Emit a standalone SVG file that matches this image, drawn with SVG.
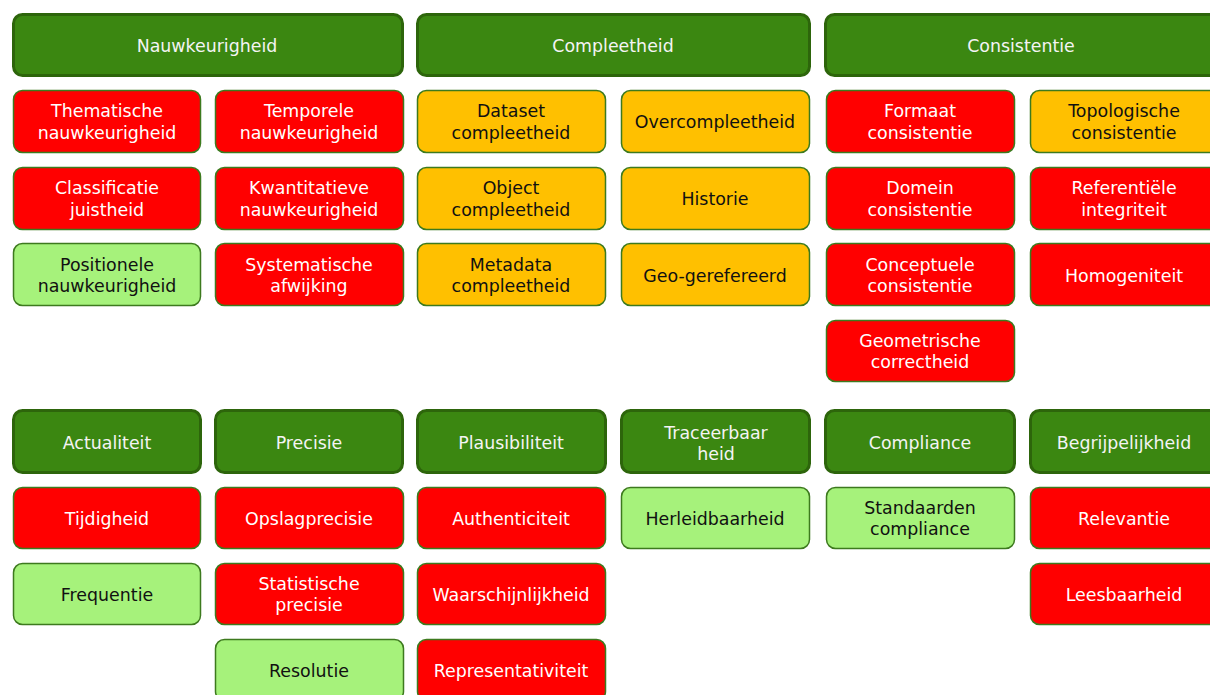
<svg xmlns="http://www.w3.org/2000/svg" width="1210" height="695" viewBox="0 0 1210 695">
  <style>
    text { font-family: "DejaVu Sans", Verdana, sans-serif; font-size: 17.4px; text-anchor: middle; }
    .hdr rect { fill: #3b8711; stroke: #2d650b; stroke-width: 3; }
    .hdr text { fill: #f4f4f4; }
    .box rect { stroke: #3d7a1e; stroke-width: 1.5; }
    .red rect { fill: #ff0000; }
    .red text { fill: #ffffff; }
    .org rect { fill: #ffc000; }
    .org text { fill: #111111; }
    .lgr rect { fill: #a6f27b; }
    .lgr text { fill: #111111; }
  </style>

  <!-- category headers, top band -->
  <g id="nauwkeurigheid" class="hdr"><rect x="13.5" y="14.5" width="389" height="61" rx="9"/><text x="207" y="52">Nauwkeurigheid</text></g>
  <g id="compleetheid" class="hdr"><rect x="417.5" y="14.5" width="392" height="61" rx="9"/><text x="613" y="52">Compleetheid</text></g>
  <g id="consistentie" class="hdr"><rect x="825.5" y="14.5" width="394" height="61" rx="9"/><text x="1021" y="52">Consistentie</text></g>

  <!-- Nauwkeurigheid -->
  <g id="thematische" class="box red"><rect x="13.5" y="90.5" width="187" height="62" rx="9"/><text x="107" y="117">Thematische</text><text x="107" y="139">nauwkeurigheid</text></g>
  <g id="temporele" class="box red"><rect x="215.5" y="90.5" width="188" height="62" rx="9"/><text x="309" y="117">Temporele</text><text x="309" y="139">nauwkeurigheid</text></g>
  <g id="classificatie" class="box red"><rect x="13.5" y="167.5" width="187" height="62" rx="9"/><text x="107" y="194">Classificatie</text><text x="107" y="216">juistheid</text></g>
  <g id="kwantitatieve" class="box red"><rect x="215.5" y="167.5" width="188" height="62" rx="9"/><text x="309" y="194">Kwantitatieve</text><text x="309" y="216">nauwkeurigheid</text></g>
  <g id="positionele" class="box lgr"><rect x="13.5" y="243.5" width="187" height="62" rx="9"/><text x="107" y="271">Positionele</text><text x="107" y="292">nauwkeurigheid</text></g>
  <g id="systematische" class="box red"><rect x="215.5" y="243.5" width="188" height="62" rx="9"/><text x="309" y="271">Systematische</text><text x="309" y="292">afwijking</text></g>

  <!-- Compleetheid -->
  <g id="dataset" class="box org"><rect x="417.5" y="90.5" width="188" height="62" rx="9"/><text x="511" y="117">Dataset</text><text x="511" y="139">compleetheid</text></g>
  <g id="overcompleetheid" class="box org"><rect x="621.5" y="90.5" width="188" height="62" rx="9"/><text x="715" y="128">Overcompleetheid</text></g>
  <g id="object" class="box org"><rect x="417.5" y="167.5" width="188" height="62" rx="9"/><text x="511" y="194">Object</text><text x="511" y="216">compleetheid</text></g>
  <g id="historie" class="box org"><rect x="621.5" y="167.5" width="188" height="62" rx="9"/><text x="715" y="205">Historie</text></g>
  <g id="metadata" class="box org"><rect x="417.5" y="243.5" width="188" height="62" rx="9"/><text x="511" y="271">Metadata</text><text x="511" y="292">compleetheid</text></g>
  <g id="geogerefereerd" class="box org"><rect x="621.5" y="243.5" width="188" height="62" rx="9"/><text x="715" y="282">Geo-gerefereerd</text></g>

  <!-- Consistentie -->
  <g id="formaat" class="box red"><rect x="826.5" y="90.5" width="188" height="62" rx="9"/><text x="920" y="117">Formaat</text><text x="920" y="139">consistentie</text></g>
  <g id="topologische" class="box org"><rect x="1030.5" y="90.5" width="188" height="62" rx="9"/><text x="1124" y="117">Topologische</text><text x="1124" y="139">consistentie</text></g>
  <g id="domein" class="box red"><rect x="826.5" y="167.5" width="188" height="62" rx="9"/><text x="920" y="194">Domein</text><text x="920" y="216">consistentie</text></g>
  <g id="referentiele" class="box red"><rect x="1030.5" y="167.5" width="188" height="62" rx="9"/><text x="1124" y="194">Referentiële</text><text x="1124" y="216">integriteit</text></g>
  <g id="conceptuele" class="box red"><rect x="826.5" y="243.5" width="188" height="62" rx="9"/><text x="920" y="271">Conceptuele</text><text x="920" y="292">consistentie</text></g>
  <g id="homogeniteit" class="box red"><rect x="1030.5" y="243.5" width="188" height="62" rx="9"/><text x="1124" y="282">Homogeniteit</text></g>
  <g id="geometrische" class="box red"><rect x="826.5" y="320.5" width="188" height="61" rx="9"/><text x="920" y="347">Geometrische</text><text x="920" y="368">correctheid</text></g>

  <!-- category headers, bottom band -->
  <g id="actualiteit" class="hdr"><rect x="13.5" y="410.5" width="187" height="62" rx="9"/><text x="107" y="449">Actualiteit</text></g>
  <g id="precisie" class="hdr"><rect x="215.5" y="410.5" width="187" height="62" rx="9"/><text x="309" y="449">Precisie</text></g>
  <g id="plausibiliteit" class="hdr"><rect x="417.5" y="410.5" width="188" height="62" rx="9"/><text x="511" y="449">Plausibiliteit</text></g>
  <g id="traceerbaarheid" class="hdr"><rect x="621.5" y="410.5" width="188" height="62" rx="9"/><text x="716" y="439">Traceerbaar</text><text x="716" y="460">heid</text></g>
  <g id="compliance" class="hdr"><rect x="825.5" y="410.5" width="189" height="62" rx="9"/><text x="920" y="449">Compliance</text></g>
  <g id="begrijpelijkheid" class="hdr"><rect x="1030.5" y="410.5" width="189" height="62" rx="9"/><text x="1124" y="449">Begrijpelijkheid</text></g>

  <!-- Actualiteit -->
  <g id="tijdigheid" class="box red"><rect x="13.5" y="487.5" width="187" height="61" rx="9"/><text x="107" y="525">Tijdigheid</text></g>
  <g id="frequentie" class="box lgr"><rect x="13.5" y="563.5" width="187" height="61" rx="9"/><text x="107" y="601">Frequentie</text></g>

  <!-- Precisie -->
  <g id="opslagprecisie" class="box red"><rect x="215.5" y="487.5" width="188" height="61" rx="9"/><text x="309" y="525">Opslagprecisie</text></g>
  <g id="statistische" class="box red"><rect x="215.5" y="563.5" width="188" height="61" rx="9"/><text x="309" y="590">Statistische</text><text x="309" y="611">precisie</text></g>
  <g id="resolutie" class="box lgr"><rect x="215.5" y="639.5" width="188" height="61" rx="9"/><text x="309" y="677">Resolutie</text></g>

  <!-- Plausibiliteit -->
  <g id="authenticiteit" class="box red"><rect x="417.5" y="487.5" width="188" height="61" rx="9"/><text x="511" y="525">Authenticiteit</text></g>
  <g id="waarschijnlijkheid" class="box red"><rect x="417.5" y="563.5" width="188" height="61" rx="9"/><text x="511" y="601">Waarschijnlijkheid</text></g>
  <g id="representativiteit" class="box red"><rect x="417.5" y="639.5" width="188" height="61" rx="9"/><text x="511" y="677">Representativiteit</text></g>

  <!-- Traceerbaarheid -->
  <g id="herleidbaarheid" class="box lgr"><rect x="621.5" y="487.5" width="188" height="61" rx="9"/><text x="715" y="525">Herleidbaarheid</text></g>

  <!-- Compliance -->
  <g id="standaarden" class="box lgr"><rect x="826.5" y="487.5" width="188" height="61" rx="9"/><text x="920" y="514">Standaarden</text><text x="920" y="535">compliance</text></g>

  <!-- Begrijpelijkheid -->
  <g id="relevantie" class="box red"><rect x="1030.5" y="487.5" width="188" height="61" rx="9"/><text x="1124" y="525">Relevantie</text></g>
  <g id="leesbaarheid" class="box red"><rect x="1030.5" y="563.5" width="188" height="61" rx="9"/><text x="1124" y="601">Leesbaarheid</text></g>

  <!-- no connectors in this chart -->
  <g id="connectors"/>
</svg>
